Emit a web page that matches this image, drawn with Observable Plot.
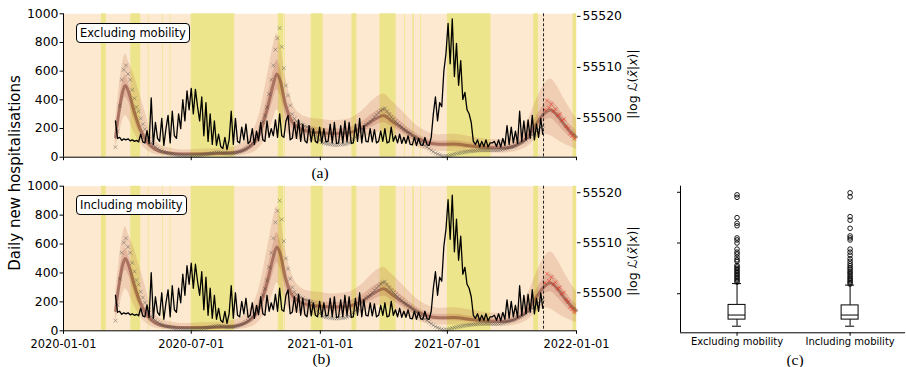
<!DOCTYPE html>
<html><head><meta charset="utf-8">
<script src="https://cdn.jsdelivr.net/npm/d3@7"></script>
<script src="https://cdn.jsdelivr.net/npm/@observablehq/plot@0.6"></script>
<style>
body{margin:0;background:white;}
#chart{position:relative;width:906px;height:367px;font-family:"DejaVu Sans",sans-serif;overflow:hidden;background:white;}
#chart svg{position:absolute;left:0;top:0;}
.lbl{position:absolute;white-space:nowrap;color:#000;line-height:1;transform:translate(-50%,-50%);}
.rot{transform:translate(-50%,-50%) rotate(-90deg);}
.serif{font-family:"Liberation Serif",serif;font-size:15.5px;}
.inset{position:absolute;background:#fff;border:1px solid #000;border-radius:4px;font-size:11.5px;padding:2px 3px;line-height:14px;white-space:nowrap;}
</style></head><body><div id="chart"></div>
<script>
// ---------- data ----------
const xTickDates = ["2020-01-01","2020-07-01","2021-01-01","2021-07-01","2022-01-01"];
const yLeftTicks = [0,200,400,600,800,1000];
const yRightTicks = [55500,55510,55520];
const panelLabels = ["Excluding mobility","Including mobility"];
const splitDate = "2021-11-15";

const holidayStart = ["2020-02-24","2020-04-06","2020-05-01","2020-05-21","2020-06-01","2020-07-01","2020-11-02","2020-11-11","2020-12-19","2021-02-15","2021-03-27","2021-05-01","2021-05-13","2021-05-24","2021-07-01","2021-11-01","2021-12-27"];
const holidayEnd   = ["2020-03-02","2020-04-20","2020-05-02","2020-05-22","2020-06-02","2020-09-01","2020-11-10","2020-11-12","2021-01-05","2021-02-22","2021-04-19","2021-05-02","2021-05-15","2021-05-25","2021-09-01","2021-11-08","2022-01-01"];

// observations every 3 days starting 2020-03-15
const seriesStart = "2020-03-15";
const stepDays = 3;
const hospitalisations = [
  70,180,360,540,610,640,                              // Mar 2020
  580,540,470,410,350,320,270,230,195,150,             // Apr
  125,100,85,72,60,50,42,36,30,27,                     // May
  24,21,19,17,15,14,13,12,12,11,                       // Jun
  11,12,12,13,14,16,18,20,22,25,28,                    // Jul
  31,33,34,33,31,29,27,26,25,26,                       // Aug
  29,33,38,43,50,58,68,80,95,115,                      // Sep
  140,165,200,245,290,350,440,540,640,750,             // Oct
  830,900,770,620,500,430,360,300,270,250,             // Nov
  240,230,225,215,210,205,200,185,165,140,120,         // Dec
  105,98,95,92,90,88,86,85,87,89,                      // Jan 2021
  90,90,95,100,110,125,140,160,180,                    // Feb
  195,210,225,235,248,262,280,295,310,325,335,         // Mar
  340,320,300,280,265,250,236,222,210,195,             // Apr
  185,175,166,150,140,128,118,105,92,80,               // May
  72,60,48,38,28,22,16,10,6,8,                         // Jun
  10,14,18,22,25,28,30,33,36,38,                       // Jul
  40,42,44,45,47,49,50,50,50,50,50,                    // Aug
  50,49,49,50,52,55,58,62,66,70,                       // Sep
  73,80,90,98,104,110,120,130,145,155,                 // Oct
  165,180,195,205,220                                  // Nov
];
const testStart = "2021-11-17";
const hospitalisationsTest = [330,395,345,370,320,335,290,300,255,265,215,200,165,150,130];

// |log L| on the same 3-day grid
const logLik = [
  55499.5,55496.1,55496.3,55495.7,55496.0,55495.8,                               // Mar 2020
  55496.0,55495.6,55495.8,55495.5,55495.7,55495.4,55496.9,55495.4,55495.2,55497.6, // Apr
  55495.1,55504.0,55494.9,55499.2,55496.1,55495.5,55500.0,55494.7,55498.0,55500.6, // May
  55495.2,55501.4,55496.6,55496.1,55500.9,55498.0,55503.7,55499.5,55505.4,55501.7, // Jun
  55505.9,55500.9,55505.7,55502.3,55499.5,55504.2,55496.6,55503.1,55495.5,55500.9,55494.9, // Jul
  55499.5,55494.7,55496.9,55494.5,55494.1,55496.3,55493.9,55495.8,55501.4,55494.9, // Aug
  55500.0,55495.5,55495.2,55498.3,55495.8,55498.9,55495.1,55495.5,55498.0,55494.9, // Sep
  55497.5,55495.6,55499.2,55495.8,55495.5,55499.5,55496.3,55498.0,55496.6,55499.7, // Oct
  55496.3,55500.9,55496.6,55496.3,55499.5,55500.6,55495.8,55496.1,55499.2,55496.1, // Nov
  55499.7,55495.5,55498.9,55495.6,55495.2,55498.6,55495.4,55498.0,55495.5,55495.2,55498.3, // Dec
  55495.2,55498.0,55495.4,55495.5,55498.9,55495.2,55499.2,55495.1,55495.2,55498.6, // Jan 2021
  55495.2,55499.5,55495.4,55499.2,55495.1,55495.2,55498.9,55495.5,55500.0,         // Feb
  55495.2,55498.6,55495.5,55495.4,55498.0,55495.4,55497.8,55495.2,55495.5,55497.5,55495.5, // Mar
  55498.0,55495.2,55495.4,55498.3,55495.5,55496.6,55495.2,55496.9,55495.1,55496.3, // Apr
  55495.1,55496.6,55494.9,55494.8,55496.3,55494.7,55496.1,55494.8,55494.7,55496.3, // May
  55494.8,55494.7,55496.3,55500.9,55504.2,55499.5,55503.1,55502.3,55509.3,55512.7, // Jun
  55518.6,55510.7,55519.5,55508.2,55514.7,55506.5,55511.3,55503.7,55505.1,55501.7, // Jul
  55500.9,55499.2,55495.5,55494.9,55495.8,55494.4,55495.5,55494.5,55495.8,55494.4,55495.2, // Aug
  55495.2,55495.5,55494.5,55495.8,55494.4,55496.1,55494.7,55498.6,55494.9,55498.3, // Sep
  55495.2,55497.5,55495.1,55501.4,55495.5,55499.5,55495.8,55499.7,55496.1,55500.6, // Oct
  55495.8,55498.9,55496.3,55500.0,55496.9                                          // Nov
];

// model fan (quantiles of predicted daily hospitalisations)
const fanDates = ["2020-03-15","2020-03-20","2020-03-25","2020-03-29","2020-04-03","2020-04-10","2020-04-18","2020-04-26","2020-05-05","2020-05-15","2020-06-01","2020-06-20","2020-07-15","2020-08-10","2020-09-01","2020-09-20","2020-10-05","2020-10-18","2020-10-26","2020-10-31","2020-11-05","2020-11-12","2020-11-20","2020-12-01","2020-12-15","2021-01-01","2021-01-20","2021-02-10","2021-03-01","2021-03-20","2021-04-01","2021-04-12","2021-04-28","2021-05-15","2021-06-01","2021-06-20","2021-07-10","2021-08-01","2021-08-25","2021-09-20","2021-10-10","2021-10-25","2021-11-05","2021-11-15","2021-11-25","2021-12-05","2021-12-15","2021-12-25","2022-01-01"];
const fanLo95 = [60,150,250,290,260,180,110,60,30,15,8,5,5,6,8,20,60,160,270,330,300,200,140,120,110,105,100,105,130,170,180,160,120,80,50,40,40,35,30,30,45,80,130,160,150,120,90,70,55];
const fanLo50 = [100,240,370,420,380,270,170,100,55,30,18,14,14,16,20,45,110,270,400,470,430,300,210,170,150,140,135,140,170,220,240,215,165,115,80,70,70,60,50,50,70,120,190,250,270,230,175,130,105];
const fanMed  = [140,310,450,500,450,330,210,130,75,45,28,22,22,25,32,65,150,350,510,580,530,370,260,205,180,170,165,170,205,265,290,255,200,145,105,90,92,80,68,65,90,150,235,300,330,290,225,170,140];
const fanHi50 = [180,370,520,570,510,390,260,165,100,62,38,30,32,36,45,88,195,430,600,680,620,440,310,240,215,205,195,205,245,315,340,305,240,175,130,112,115,100,86,83,115,190,285,360,395,350,275,215,180];
const fanHi95 = [250,470,650,720,660,580,450,320,160,95,62,50,55,60,75,135,280,580,780,860,790,570,410,310,275,265,255,265,320,410,440,395,320,235,180,155,160,145,125,120,165,270,400,500,545,490,400,320,270];

// boxplot statistics of |log L|
const boxCategories = ["Excluding mobility","Including mobility"];
const boxLow    = [55493.6,55493.6];
const boxQ1     = [55494.9,55494.9];
const boxMedian = [55495.8,55495.8];
const boxQ3     = [55497.8,55497.7];
const boxHigh   = [55502.0,55501.7];
const outliersExcluding = [55519.5,55519.0,55515.0,55513.9,55513.4,55511.0,55510.6,55510.0,55508.8,55508.2,55507.8,55507.2,55506.7,55506.4,55505.6,55505.3,55505.0,55504.7,55504.4,55504.1,55503.8,55503.5,55503.2,55502.9,55502.6,55502.3];
const outliersIncluding = [55519.9,55519.1,55515.2,55514.5,55512.9,55511.4,55511.0,55510.6,55508.8,55508.2,55507.6,55506.9,55506.4,55505.9,55505.5,55505.1,55504.8,55504.4,55504.1,55503.8,55503.4,55503.1,55502.8,55502.5,55502.2,55501.9];

// ---------- build ----------
const peach = "#fde9cf", khaki = "#ede58b", fanColor = "#a8442e";
const d = s => new Date(s);
const holidays = holidayStart.map((s,i)=>({start:d(s), end:d(holidayEnd[i])}));
const hospData = hospitalisations.map((v,i)=>({date:d3.utcDay.offset(d(seriesStart), stepDays*i), v}));
const testData = hospitalisationsTest.map((v,i)=>({date:d3.utcDay.offset(d(testStart), stepDays*i), v}));
const llData = logLik.map((v,i)=>({date:d3.utcDay.offset(d(seriesStart), stepDays*i), v}));
const fan = fanDates.map((s,i)=>({date:d(s), lo95:fanLo95[i], lo50:fanLo50[i], med:fanMed[i], hi50:fanHi50[i], hi95:fanHi95[i]}));
const xDomain = [d("2020-01-01"), d("2022-01-01")];
const baseStyle = {background:"transparent", fontFamily:"DejaVu Sans", fontSize:"12.4px", overflow:"visible", color:"black"};

function mainPanel(top, bottom, showDates) {
  return Plot.plot({
    width:906, height:367, marginLeft:63, marginRight:330, marginTop:top, marginBottom:367-bottom,
    style: baseStyle,
    x:{type:"utc", domain:xDomain},
    y:{domain:[0,1000]},
    marks:[
      Plot.frame({fill:peach, stroke:"none"}),
      Plot.rect(holidays,{x1:"start", x2:"end", y1:0, y2:1000, fill:khaki}),
      Plot.areaY(fan,{x:"date", y1:"lo95", y2:"hi95", fill:fanColor, fillOpacity:0.16, curve:"monotone-x"}),
      Plot.areaY(fan,{x:"date", y1:"lo50", y2:"hi50", fill:fanColor, fillOpacity:0.2, curve:"monotone-x"}),
      Plot.line(fan,{x:"date", y:"med", stroke:"#5e1a10", strokeOpacity:0.42, strokeWidth:3, curve:"monotone-x"}),
      Plot.dot(hospData,{x:"date", y:"v", symbol:"times", r:1.9, stroke:"#444", strokeOpacity:0.5, strokeWidth:0.8}),
      Plot.dot(testData,{x:"date", y:"v", symbol:"times", r:1.9, stroke:"#e8281a", strokeOpacity:0.7, strokeWidth:0.8}),
      Plot.ruleX([d(splitDate)],{stroke:"#222", strokeWidth:1, strokeDasharray:"3,2"}),
      Plot.ruleY([0],{stroke:"black", strokeWidth:1}),
      Plot.ruleX([xDomain[0]],{stroke:"black", strokeWidth:1}),
      Plot.axisY({ticks:yLeftTicks, tickSize:3.5, tickPadding:1.5, label:null, fontSize:12.4, tickFormat:v=>String(v)}),
      Plot.axisX({ticks:xTickDates.map(d), tickSize:3.5, tickPadding:6, label:null, fontSize:11.4,
                  tickFormat: showDates ? d3.utcFormat("%Y-%m-%d") : () => ""})
    ]
  });
}
function rightPanel(top, bottom, domain) {
  return Plot.plot({
    width:906, height:367, marginLeft:63, marginRight:330, marginTop:top, marginBottom:367-bottom,
    style: baseStyle,
    x:{type:"utc", domain:xDomain, axis:null},
    y:{domain},
    marks:[
      Plot.line(llData,{x:"date", y:"v", stroke:"black", strokeWidth:1.3}),
      Plot.axisY({anchor:"right", ticks:yRightTicks, tickSize:3.5, tickPadding:2.5, label:null, fontSize:12.4, tickFormat:v=>String(v)})
    ]
  });
}
const boxData = boxCategories.map((c,i)=>({i, lo:boxLow[i], q1:boxQ1[i], med:boxMedian[i], q3:boxQ3[i], hi:boxHigh[i]}));
const outliers = [
  ...outliersExcluding.map(v=>({i:0, v})),
  ...outliersIncluding.map(v=>({i:1, v}))
];
const yBox = [55492.3, 55521.2];
const boxPlot = Plot.plot({
  width:906, height:367, marginLeft:680, marginRight:1, marginTop:185.7, marginBottom:367-332.3,
  style: baseStyle,
  x:{type:"linear", domain:[-0.5,1.49]},
  y:{domain:yBox},
  marks:[
    Plot.ruleX([-0.5],{stroke:"black"}),
    Plot.ruleY([yBox[0]],{stroke:"black"}),
    Plot.ruleX(boxData,{x:"i", y1:"lo", y2:"q1", stroke:"black"}),
    Plot.ruleX(boxData,{x:"i", y1:"q3", y2:"hi", stroke:"black"}),
    Plot.ruleY(boxData,{y:"lo", x1:b=>b.i-0.04, x2:b=>b.i+0.04, stroke:"black"}),
    Plot.ruleY(boxData,{y:"hi", x1:b=>b.i-0.04, x2:b=>b.i+0.04, stroke:"black"}),
    Plot.rect(boxData,{x1:b=>b.i-0.075, x2:b=>b.i+0.075, y1:"q1", y2:"q3", fill:"white", stroke:"black", strokeWidth:1}),
    Plot.ruleY(boxData,{y:"med", x1:b=>b.i-0.075, x2:b=>b.i+0.075, stroke:"black"}),
    Plot.dot(outliers,{x:"i", y:"v", r:2.3, stroke:"black", fill:"none", strokeWidth:0.9}),
    Plot.axisY({ticks:yRightTicks, tickSize:3, tickFormat:()=>"", label:null}),
    Plot.axisX({ticks:[0,1], tickFormat:i=>boxCategories[i], tickSize:3.5, tickPadding:2, fontSize:10, label:null})
  ]
});

const chart = document.getElementById("chart");
[mainPanel(13.3,156.7,false), mainPanel(185.7,330.3,true),
 rightPanel(13.3,156.7,[55492.4,55520.5]), rightPanel(185.7,330.3,[55492.4,55521.3]),
 boxPlot].forEach(svg => chart.appendChild(svg));

function addLabel(html, x, y, cls) {
  const el = document.createElement("div");
  el.className = "lbl " + (cls||"");
  el.style.left = x + "px"; el.style.top = y + "px";
  el.innerHTML = html;
  chart.appendChild(el);
  return el;
}
addLabel("Daily new hospitalisations", 15, 172.5, "rot").style.fontSize = "15px";
const rl = '|log <i>ℒ</i>(<i>x\u0303</i>|<i>x</i>)|';
addLabel(rl, 633, 84, "rot").style.fontSize = "12.5px";
addLabel(rl, 633, 260.5, "rot").style.fontSize = "12.5px";
addLabel("(a)", 320, 173, "serif");
addLabel("(b)", 321.5, 359, "serif");
addLabel("(c)", 795, 360, "serif");
[[panelLabels[0],23],[panelLabels[1],195]].forEach(([t,top])=>{
  const el = document.createElement("div");
  el.className = "inset";
  el.style.left = "76px"; el.style.top = top + "px";
  el.textContent = t;
  chart.appendChild(el);
});
</script></body></html>
